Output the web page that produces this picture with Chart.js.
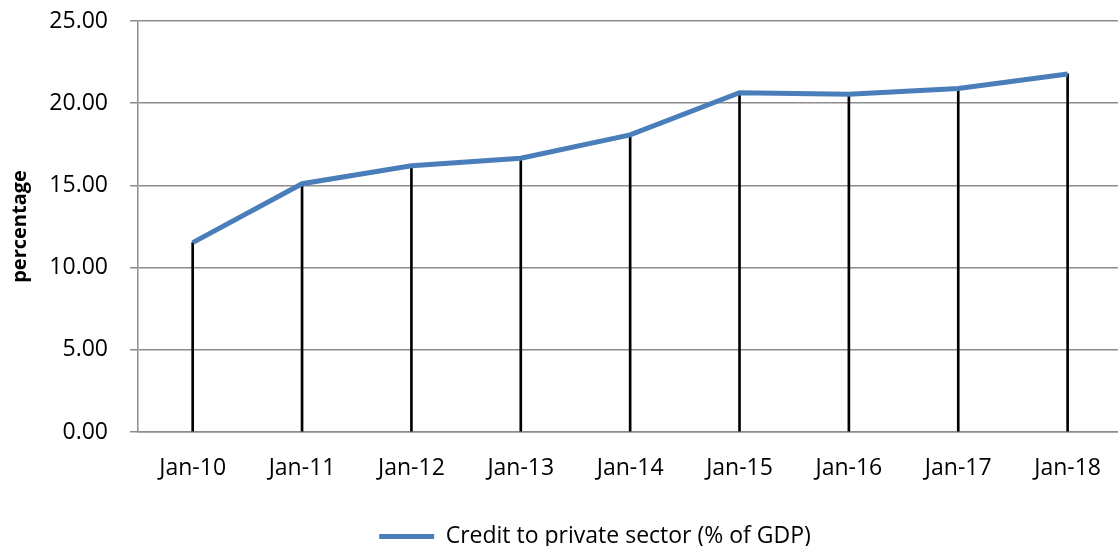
<!DOCTYPE html>
<html>
<head>
<meta charset="utf-8">
<script src="https://cdn.jsdelivr.net/npm/chart.js@4/dist/chart.umd.min.js"></script>
<style>
  html,body{margin:0;padding:0;background:#fff;overflow:hidden}
  #wrap{width:1124px;height:546px}
</style>
</head>
<body>
<div id="wrap"><canvas id="creditChart" width="1124" height="546"></canvas></div>
<script>
// Credit to private sector, % of GDP
const months = ['Jan-10','Jan-11','Jan-12','Jan-13','Jan-14','Jan-15','Jan-16','Jan-17','Jan-18'];
const creditPct = [11.52, 15.1, 16.2, 16.65, 18.07, 20.64, 20.54, 20.9, 21.78];
const yTicks = [0, 5, 10, 15, 20, 25];

const FONT = '"Open Sans", "Liberation Sans", sans-serif';
const GRID = '#8c8c8c';

// legend sits centred under the plot area rather than the whole canvas
const legendShift = {
  id:'legendShift',
  afterLayout(chart){
    const lg = chart.legend;
    if(!lg) return;
    lg.left += 33; lg.right += 33;
  }
};

const ctx = document.getElementById('creditChart').getContext('2d');
new Chart(ctx, {
  data:{
    labels: months,
    datasets:[
      { type:'line', label:'Credit to private sector (% of GDP)', data:creditPct,
        borderColor:'#4a7ebb', backgroundColor:'#4a7ebb', borderWidth:5,
        pointRadius:0, tension:0, order:0 },
      // drop lines down to the axis
      { type:'bar', label:'drop', data:creditPct, backgroundColor:'#000',
        barThickness:2, order:1 }
    ]
  },
  options:{
    responsive:false, animation:false,
    layout:{ padding:{ top:21, right:0, bottom:-12, left:0 } },
    scales:{
      x:{
        offset:true,
        grid:{ display:false, drawTicks:false },
        border:{ display:true, color:GRID, width:1.5 },
        ticks:{ color:'#000', padding:23, font:{ family:FONT, size:23 } },
        afterFit: s => { s.height = 91; }
      },
      y:{
        min:0, max:25,
        afterBuildTicks: s => { s.ticks = yTicks.map(v=>({value:v})); },
        grid:{ color:GRID, lineWidth:1.5, tickLength:8 },
        border:{ display:true, color:GRID, width:1.5 },
        ticks:{ color:'#000', padding:22, font:{ family:FONT, size:23 },
                callback:v=>v.toFixed(2) },
        title:{ display:true, text:'percentage', color:'#000', padding:{top:8,bottom:0},
                font:{ family:FONT, size:20, weight:'bold' } },
        afterFit: s => { s.width = 138; s.paddingTop = 0; }
      }
    },
    plugins:{
      legend:{
        position:'bottom',
        labels:{
          color:'#000', font:{ family:FONT, size:23 }, padding:2,
          usePointStyle:true, pointStyle:'line', pointStyleWidth:55,
          filter: item => item.datasetIndex === 0
        }
      },
      tooltip:{ enabled:false }
    }
  },
  plugins:[legendShift]
});
</script>
</body>
</html>
